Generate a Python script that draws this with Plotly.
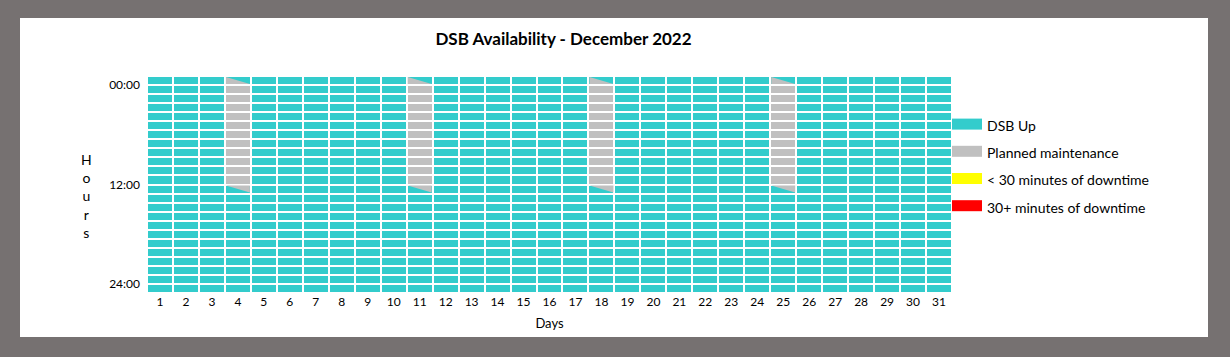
import plotly.graph_objects as go

# ---------------- data ----------------
days = list(range(1, 32))
hours = list(range(24))
maintenance_days = [4, 11, 18, 25]
maintenance_start = [0, 0, 0, 0]
maintenance_end = [12, 12, 12, 12]
hour_tick_pos = [1, 12, 23]
hour_tick_labels = ["00:00", "12:00", "24:00"]
status_names = ["DSB Up", "Planned maintenance",
                "< 30 minutes of downtime", "30+ minutes of downtime"]
status_colors = ["#33CCCC", "#C0C0C0", "#FFFF00", "#FF0000"]

# ---------------- layout constants ----------------
W, H = 1230, 357
ML, MR, MT, MB = 147, 278, 76, 64
PW, PH = W - ML - MR, H - MT - MB
FONT = "Lato"
GAP = 2

# status grid: 0 = up, 1 = planned maintenance
z = [[0 for _ in days] for _ in hours]
for d, s, e in zip(maintenance_days, maintenance_start, maintenance_end):
    for h in range(s + 1, e):
        z[h][days.index(d)] = 1

# diagonal partial cells of maintenance (first / last row)
gx = (GAP / 2) / (PW / len(days))
gy = (GAP / 2) / (PH / len(hours))
tx, ty = [], []
for d, s, e in zip(maintenance_days, maintenance_start, maintenance_end):
    xl, xr = d - 0.5 + gx, d + 0.5 - gx
    tx += [xl, xl, xr, None]
    ty += [s + gy, s + 1 - gy, s + 1 - gy, None]
    tx += [xl, xr, xr, None]
    ty += [e + gy, e + gy, e + 1 - gy, None]

n = len(status_colors)
colorscale = []
for i, c in enumerate(status_colors):
    colorscale += [[i / n, c], [(i + 1) / n, c]]

fig = go.Figure()
fig.add_trace(go.Heatmap(
    x=days, y=[h + 0.5 for h in hours], z=z,
    zmin=-0.5, zmax=n - 0.5, colorscale=colorscale, showscale=False,
    xgap=GAP, ygap=GAP, hoverinfo="skip", showlegend=False))
fig.add_trace(go.Scatter(
    x=tx, y=ty, mode="lines", fill="toself", fillcolor=status_colors[1],
    line=dict(width=0, color=status_colors[1]), hoverinfo="skip",
    showlegend=False))

for i, (name, c) in enumerate(zip(status_names, status_colors)):
    fig.add_trace(go.Scatter(
        x=[None], y=[None], mode="lines", fill="toself", fillcolor=c,
        line=dict(color=c, width=10), name=name, legendgroup=str(i)))

fig.add_shape(type="rect", xref="paper", yref="paper", layer="below",
              x0=(20 - ML) / PW, x1=(1208 - ML) / PW,
              y0=(H - MB - 337) / PH, y1=(H - MB - 18) / PH,
              fillcolor="white", line=dict(width=0))

fig.add_annotation(text="H<br>o<br>u<br>r<br>s", xref="paper", yref="paper",
                   x=(86 - ML) / PW, y=(H - MB - 196) / PH,
                   showarrow=False, xanchor="center", yanchor="middle",
                   font=dict(family=FONT, size=14, color="black"))

fig.update_layout(
    width=W, height=H,
    margin=dict(l=ML, r=MR, t=MT, b=MB, autoexpand=False),
    paper_bgcolor="#767171", plot_bgcolor="white",
    title=dict(text="DSB Availability - December 2022",
               x=563.5 / W, xanchor="center", y=1 - 39.5 / H, yanchor="middle",
               font=dict(family=FONT, size=17, color="black", weight="bold")),
    xaxis=dict(range=[0.5, 31.5], tickvals=days, ticktext=[str(d) for d in days],
               showgrid=False, zeroline=False, showline=False, ticks="",
               tickfont=dict(family=FONT, size=12, color="black"),
               title=dict(text="Days", standoff=10,
                          font=dict(family=FONT, size=13, color="black")),
               automargin=False, fixedrange=True),
    yaxis=dict(range=[24, 0], tickvals=hour_tick_pos, ticktext=hour_tick_labels,
               showgrid=False, zeroline=False, showline=False, ticks="",
               ticklabelstandoff=6,
               tickfont=dict(family=FONT, size=12, color="black"),
               automargin=False, fixedrange=True),
    legend=dict(x=(947 - ML) / PW, xanchor="left",
                y=(H - MB - 110) / PH, yanchor="top",
                traceorder="grouped", tracegroupgap=6,
                bgcolor="rgba(0,0,0,0)",
                font=dict(family=FONT, size=14, color="black")),
    showlegend=True,
)

fig.write_html("out.html", config={"displayModeBar": False},
               post_script="document.body.style.margin='0';")
